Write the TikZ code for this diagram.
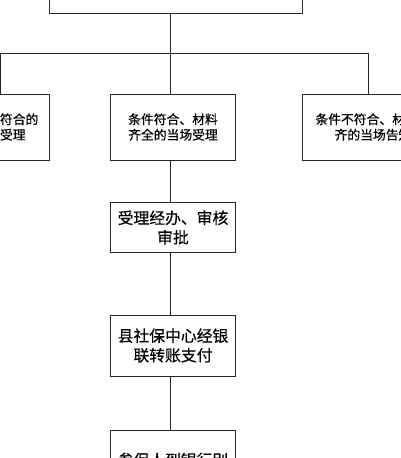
\documentclass[tikz,border=0pt]{standalone}
\usepackage{fontspec}
\newfontfamily\cjk[FakeBold=0.4]{Noto Sans CJK SC}
\begin{document}
\begin{tikzpicture}[x=1pt,y=-1pt,
  box/.style={draw=black!85,line width=1pt,fill=white,rectangle,inner sep=0pt,align=center},
  smalltxt/.style={font=\cjk\fontsize{12.8}{15.5}\selectfont},
  bigtxt/.style={font=\cjk\fontsize{15.8}{19.5}\selectfont},
  conn/.style={draw=black!85,line width=1pt}]
\useasboundingbox (0,0) rectangle (400,458);
\node[box,minimum width=253pt,minimum height=60pt] (top) at (176,-16.5) {};
\node[box,smalltxt,minimum width=99pt,minimum height=66pt] (left) at (0,127) {条件均符合的\\予以受理};
\node[box,smalltxt,minimum width=141pt,minimum height=66pt] (right) at (373,127) {条件不符合、材料不\\齐的当场告知};
\node[box,smalltxt,minimum width=125pt,minimum height=66pt] (mid) at (173,127) {条件符合、材料\\齐全的当场受理};
\node[box,bigtxt,minimum width=124.6pt,minimum height=50.4pt] (b3) at (173,227.5) {受理经办、审核\\审批};
\node[box,bigtxt,minimum width=124.6pt,minimum height=61pt] (b4) at (173,345.5) {县社保中心经银\\联转账支付};
\node[box,bigtxt,minimum width=124.6pt,minimum height=60pt] (b5) at (173,460) {参保人到银行别};
\coordinate (j) at (170,53);
\coordinate (jl) at (0.75,53);
\coordinate (jr) at (368,53);
\draw[conn] (j |- top.south) -- (j);
\draw[conn] (jl |- left.north) -- (jl) -- (jr) -- (jr |- right.north);
\draw[conn] (j) -- (j |- mid.north);
\draw[conn] (j |- mid.south) -- (j |- b3.north);
\draw[conn] (j |- b3.south) -- (j |- b4.north);
\draw[conn] (j |- b4.south) -- (j |- b5.north);
\end{tikzpicture}
\end{document}
